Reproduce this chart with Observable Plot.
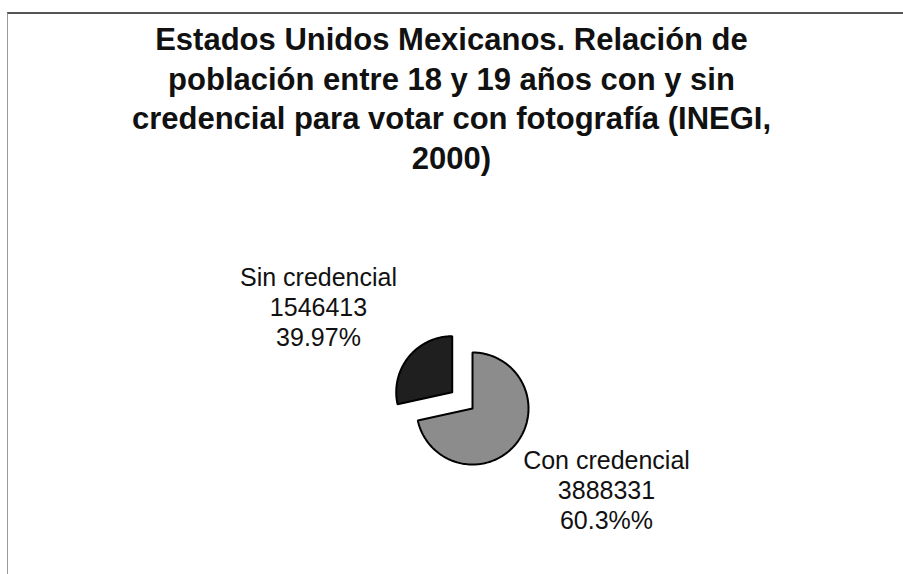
<!DOCTYPE html>
<html>
<head>
<meta charset="utf-8">
<script src="https://cdn.jsdelivr.net/npm/d3@7"></script>
<script src="https://cdn.jsdelivr.net/npm/@observablehq/plot@0.6"></script>
<style>
  html, body { margin: 0; padding: 0; background: #fff; }
  #wrap { position: relative; width: 903px; height: 574px; overflow: hidden; background: #fff; }
  #frame { position: absolute; left: 7px; top: 12px; right: -2px; bottom: -2px;
           border-top: 2px solid #555; border-left: 1px solid #9a9a9a; }
  #title { position: absolute; left: 0; top: 20px; width: 903px; text-align: center;
           font-family: "Liberation Sans", Arial, sans-serif; font-weight: bold;
           font-size: 31px; line-height: 39.5px; color: #111; margin: 0; }
  #chart { position: absolute; left: 0; top: 0; }
</style>
</head>
<body>
<div id="wrap">
  <div id="frame"></div>
  <div id="chart"></div>
  <h1 id="title">Estados Unidos Mexicanos. Relación de<br>población entre 18 y 19 años con y sin<br>credencial para votar con fotografía (INEGI,<br>2000)</h1>
</div>
<script>
// ---- data ----
const categories = ["Con credencial", "Sin credencial"];
const values = [3888331, 1546413];
const percentLabels = ["60.3%%", "39.97%"];

// ---- layout / style ----
const W = 903, H = 574;
const center = {x: 472, y: 408};
const radius = 56;
const explode = {"Con credencial": 0, "Sin credencial": 26};
const fills = {"Con credencial": "#8c8c8c", "Sin credencial": "#1f1f1f"};
const labelPos = {"Con credencial": {x: 606, y: 489}, "Sin credencial": {x: 318, y: 306}};

// ---- build slices from data ----
const pie = d3.pie().sort(null).value(d => d.value)(
  categories.map((c, i) => ({category: c, value: values[i], pct: percentLabels[i]}))
);

const slicePoints = pie.map(a => {
  const c = a.data.category;
  const mid = (a.startAngle + a.endAngle) / 2;
  const ox = center.x + explode[c] * Math.sin(mid);
  const oy = center.y - explode[c] * Math.cos(mid);
  const pts = [{category: c, x: ox, y: oy}];
  const n = 160;
  for (let k = 0; k <= n; k++) {
    const t = a.startAngle + (a.endAngle - a.startAngle) * k / n;
    pts.push({category: c, x: ox + radius * Math.sin(t), y: oy - radius * Math.cos(t)});
  }
  pts.push({category: c, x: ox, y: oy});
  return pts;
});

const labels = pie.map(a => ({
  category: a.data.category,
  text: `${a.data.category}\n${a.data.value}\n${a.data.pct}`
}));

const plot = Plot.plot({
  width: W,
  height: H,
  margin: 0,
  x: {type: "linear", domain: [0, W], range: [0, W], axis: null},
  y: {type: "linear", domain: [0, H], range: [0, H], axis: null},
  style: {background: "transparent", fontFamily: "'Liberation Sans', Arial, sans-serif"},
  marks: [
    ...slicePoints.map(pts => Plot.line(pts, {
      x: "x", y: "y",
      fill: fills[pts[0].category],
      stroke: "#000",
      strokeWidth: 2,
      strokeLinejoin: "miter"
    })),
    Plot.text(labels, {
      x: d => labelPos[d.category].x,
      y: d => labelPos[d.category].y,
      text: "text",
      fontSize: 25,
      lineHeight: 1.2,
      textAnchor: "middle",
      lineAnchor: "middle",
      fill: "#111"
    })
  ]
});
document.getElementById("chart").appendChild(plot);
</script>
</body>
</html>
